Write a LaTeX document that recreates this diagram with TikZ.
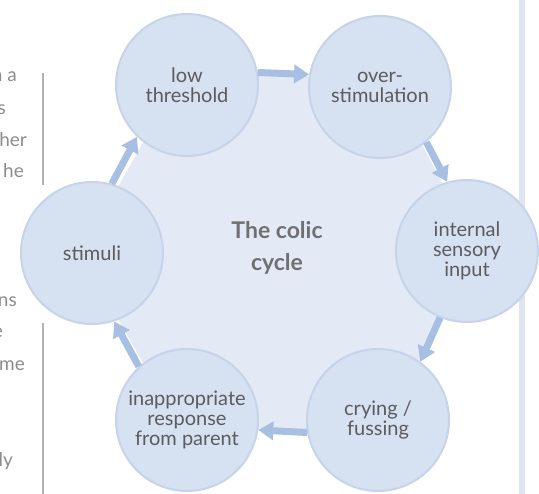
\documentclass[tikz,border=0pt]{standalone}
\usepackage{fontspec}
\setmainfont{Lato}
\usetikzlibrary{arrows.meta}
\definecolor{colicblue}{RGB}{214,225,241}
\definecolor{colicrim}{RGB}{198,211,233}
\definecolor{colichex}{RGB}{228,234,245}
\definecolor{colicarrow}{RGB}{166,191,226}
\definecolor{colictext}{RGB}{92,92,94}
\definecolor{colictitle}{RGB}{112,112,114}
\definecolor{colicgray}{RGB}{140,140,140}
\definecolor{colicrule}{RGB}{178,178,178}
\definecolor{colicbar}{RGB}{222,229,240}

\begin{document}
\begin{tikzpicture}[x=1pt,y=-1pt]

%
% Styles
%
\tikzstyle{stage}  = [circle,draw=colicrim,line width=2pt,fill=colicblue,minimum size=142pt,inner sep=0pt,align=center,text=colictext,font=\fontsize{20}{20}\selectfont]
\tikzstyle{flow}   = [-{Triangle[width=18pt,length=15pt]},line width=7pt,draw=colicarrow]
\tikzstyle{title}  = [align=center,text=colictitle,font=\fontsize{23}{32}\selectfont\bfseries]
\tikzstyle{margin} = [anchor=base east,inner sep=0pt,text=colicgray,font=\fontsize{19}{19}\selectfont]

\useasboundingbox (0,0) rectangle (539,494);

% column rules
\draw[colicbar,line width=6pt]   (522,0)  -- (522,494);
\draw[colicrule,line width=1.5pt] (43,73)  -- (43,185);
\draw[colicrule,line width=1.5pt] (43,323) -- (43,494);

% cut-off text of the next column
\node[margin] (m1) at (17,82)  {n a};
\node[margin] (m2) at (6,115)  {s};
\node[margin] (m3) at (27,147) {her};
\node[margin] (m4) at (24,178) {he};
\node[margin] (m5) at (17,307) {ns};
\node[margin] (m6) at (3,338)  {e};
\node[margin] (m7) at (25,371) {me};
\node[margin] (m8) at (13,467) {ly};

\coordinate (c1) at (187, 85);
\coordinate (c2) at (380, 87);
\coordinate (c3) at (467,251);
\coordinate (c4) at (378,420);
\coordinate (c5) at (187,420);
\coordinate (c6) at ( 92,253);

% background hexagon
\filldraw[fill=colichex,draw=colichex,line width=20pt,line join=round]
  (c1) -- (c2) -- (c3) -- (c4) -- (c5) -- (c6) -- cycle;

\node[stage] (low)  at (c1) {low\\threshold};
\node[stage] (over) at (c2) {over-\\stimulation};
\node[stage] (inp)  at (c3) {internal\\sensory\\input};
\node[stage] (cry)  at (c4) {crying /\\fussing};
\node[stage] (resp) at (c5) {inappropriate\\response\\from parent};
\node[stage] (stim) at (c6) {stimuli};

\node[title] (t) at (277,248) {The colic\\cycle};

\draw[flow] (low.10)   -- (over.170);
\draw[flow] (over.-50) -- (inp.106);
\draw[flow] (inp.-112) -- (cry.54);
\draw[flow] (cry.190)  -- (resp.-8);
\draw[flow] (resp.132) -- (stim.-72);
\draw[flow] (stim.74)  -- (low.226);

\end{tikzpicture}
\end{document}
